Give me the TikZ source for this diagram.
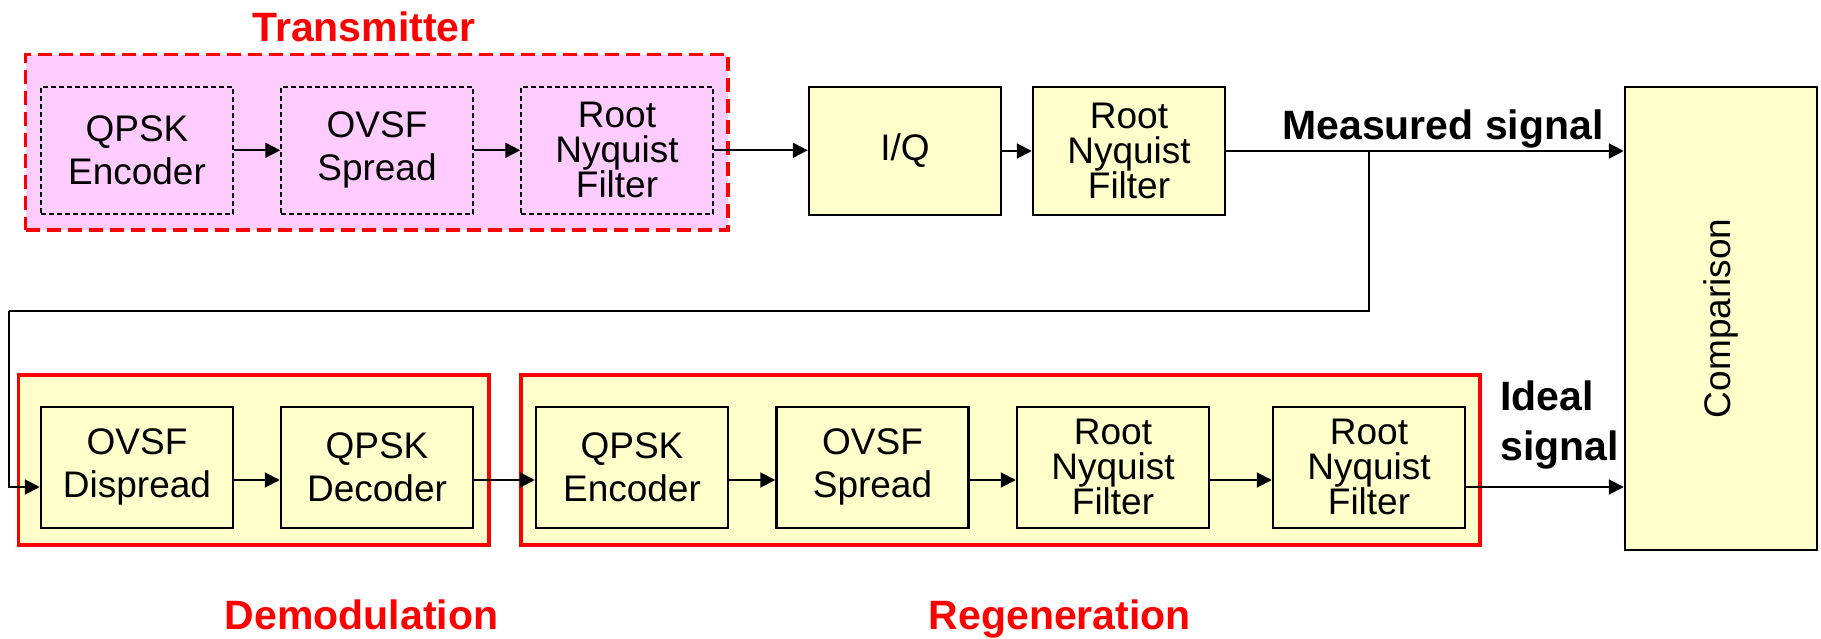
\documentclass[tikz,border=0pt]{standalone}
\usepackage{fontspec}
\setmainfont{Liberation Sans}
\usetikzlibrary{arrows.meta}
\definecolor{pinkfill}{RGB}{255,204,255}
\definecolor{yelfill}{RGB}{255,255,204}
\definecolor{redc}{RGB}{255,0,0}
\tikzset{
 blk/.style={draw=black, line width=2.5pt, fill=yelfill, minimum width=192pt, minimum height=121pt, inner sep=0pt, align=center, font=\fontsize{37}{43}\selectfont},
 dblk/.style={draw=black, dash pattern=on 5pt off 3pt, line width=1.5pt, fill=pinkfill, minimum width=192pt, minimum height=127pt, inner sep=0pt, align=center, font=\fontsize{37}{43}\selectfont},
 three/.style={font=\fontsize{37}{35}\selectfont},
 tframe/.style={draw=redc, line width=3.5pt, dash pattern=on 14pt off 7pt, fill=pinkfill, inner sep=0pt},
 rframe/.style={draw=redc, line width=3.5pt, fill=yelfill, inner sep=0pt},
 arr/.style={line width=2pt, -{Triangle[length=15pt,width=15pt]}},
 wire/.style={line width=2pt},
 lbl/.style={font=\fontsize{41}{50}\selectfont\bfseries},
 redlbl/.style={lbl, text=redc},
}
\begin{document}
\begin{tikzpicture}[x=1pt,y=-1pt]
\useasboundingbox (0,0) rectangle (1821,639);
% frames
\node[tframe, minimum width=702.5pt, minimum height=175.4pt] (trans) at (376.8,142.3) {};
\node[rframe, minimum width=470.4pt, minimum height=170pt] (demod) at (253.8,460) {};
\node[rframe, minimum width=959pt, minimum height=170pt] (regen) at (1000.5,460) {};
% frame titles
\node[redlbl, anchor=base] (ttrans) at (364,42) {Transmitter};
\node[redlbl, anchor=base] (tdemod) at (361.6,629) {Demodulation};
\node[redlbl, anchor=base] (tregen) at (1059.8,629) {Regeneration};
% transmitter blocks
\node[dblk] (qe1) at (137,150.3) {QPSK\\Encoder};
\node[dblk] (os1) at (377,150.3) {OVSF\\Spread};
\node[dblk, three] (rn1) at (617,150.3) {Root\\Nyquist\\Filter};
% channel blocks
\node[blk, minimum height=128pt] (iq) at (905,151) {I/Q};
\node[blk, minimum height=128pt, three] (rn2) at (1129,151) {Root\\Nyquist\\Filter};
\node[blk, minimum height=463pt] (comp) at (1721,318.3) {};
\node[rotate=90, font=\fontsize{37}{43}\selectfont] (ctext) at (comp.center) {Comparison};
% demodulation blocks
\node[blk] (od) at (137,467.3) {OVSF\\Dispread};
\node[blk] (qd) at (377,467.3) {QPSK\\Decoder};
% regeneration blocks
\node[blk] (qe2) at (632,467.3) {QPSK\\Encoder};
\node[blk] (os2) at (872.5,467.3) {OVSF\\Spread};
\node[blk, three] (rn3) at (1113,467.3) {Root\\Nyquist\\Filter};
\node[blk, three] (rn4) at (1369,467.3) {Root\\Nyquist\\Filter};
% top arrows
\draw[arr] (qe1.east) -- (os1.west);
\draw[arr] (os1.east) -- (rn1.west);
\draw[arr] (rn1.east) -- (iq.west |- rn1.east);
\draw[arr] (iq.east) -- (rn2.west);
\draw[arr, line width=2.6pt] (rn2.east) -- (rn2.east -| comp.west);
\node[lbl, anchor=base] (lmeas) at (1443,140) {Measured signal};
% feedback
\coordinate (br) at (1369,151);
\coordinate (fb) at (9,310.7);
\coordinate (odin) at ([yshift=-19.7pt]od.west);
\draw[wire] (br) |- (fb);
\draw[arr] (fb) |- (odin);
% lower arrows
\draw[arr] ([yshift=-12.7pt]od.east) -- ([yshift=-12.7pt]qd.west);
\draw[arr] ([yshift=-12.7pt]qd.east) -- ([yshift=-12.7pt]qe2.west);
\draw[arr] ([yshift=-12.7pt]qe2.east) -- ([yshift=-12.7pt]os2.west);
\draw[arr] ([yshift=-12.7pt]os2.east) -- ([yshift=-12.7pt]rn3.west);
\draw[arr] ([yshift=-12.7pt]rn3.east) -- ([yshift=-12.7pt]rn4.west);
\coordinate (io) at ([yshift=-19.7pt]rn4.east);
\draw[arr] (io) -- (io -| comp.west);
\node[lbl, anchor=base west] (lideal1) at (1497,410) {Ideal};
\node[lbl, anchor=base west] (lideal2) at (1497,460) {signal};
\end{tikzpicture}
\end{document}
